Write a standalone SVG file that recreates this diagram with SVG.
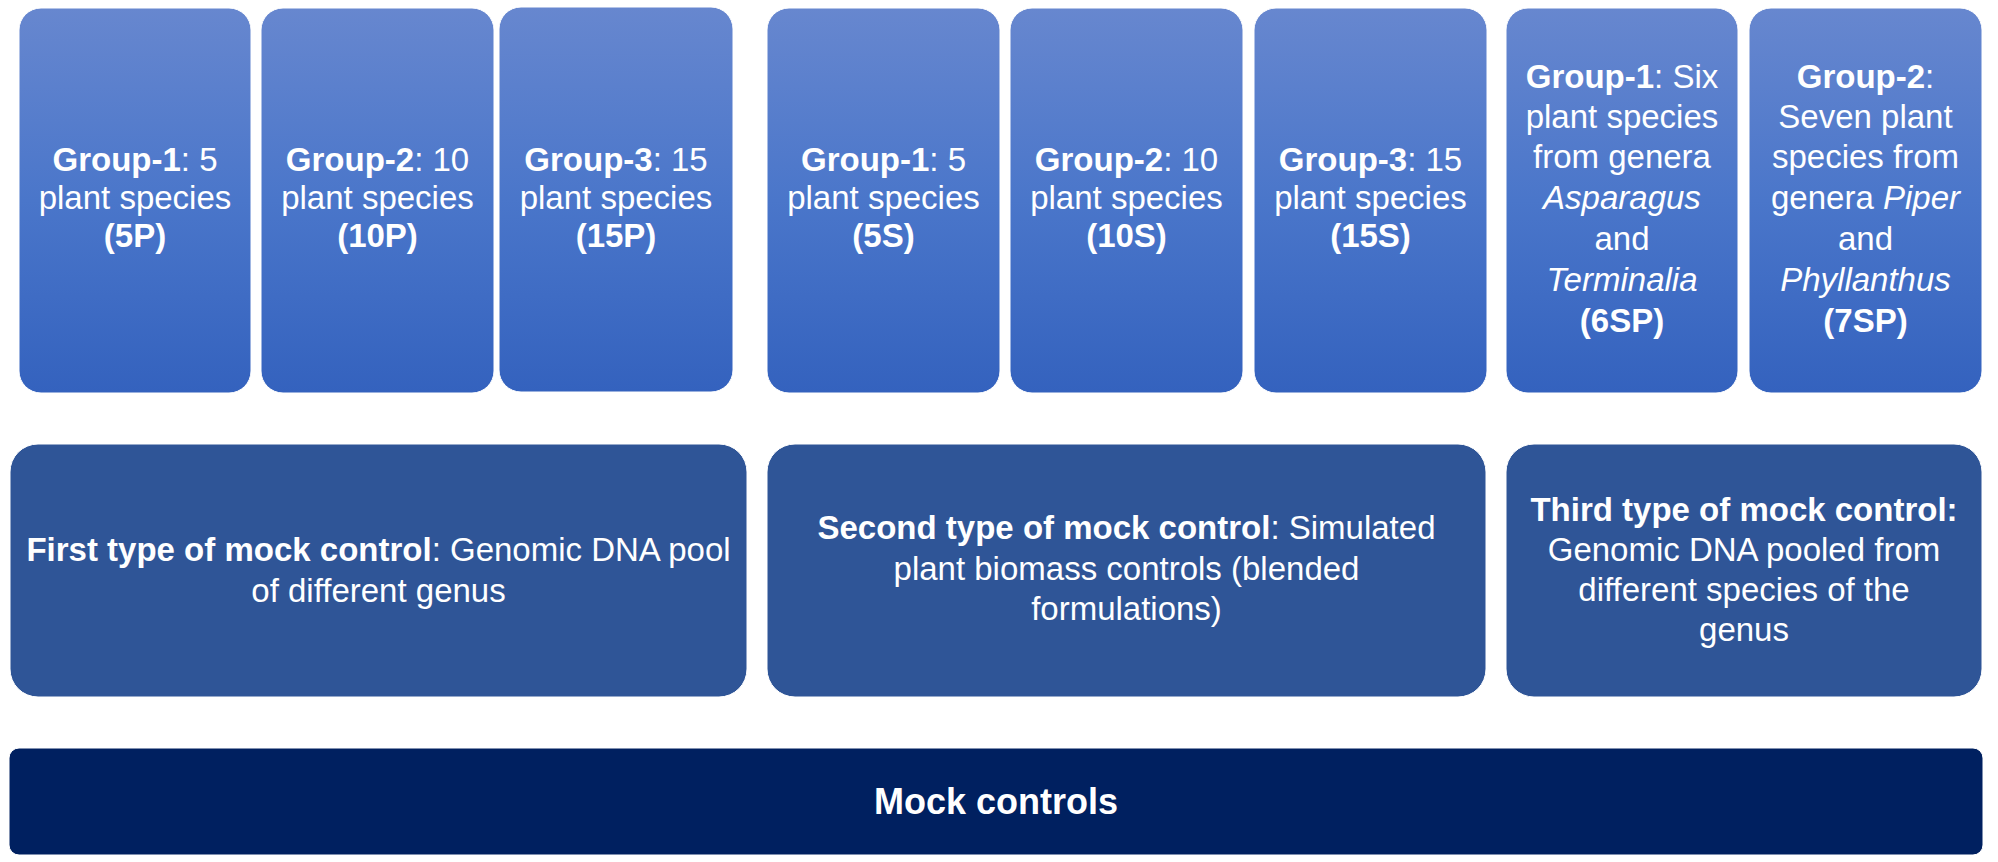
<svg xmlns="http://www.w3.org/2000/svg" width="1998" height="862" viewBox="0 0 1998 862">
<defs>
<linearGradient id="gTop" x1="0" y1="0" x2="0" y2="1">
<stop offset="0" stop-color="#6787CF"/>
<stop offset="0.5" stop-color="#4A76CA"/>
<stop offset="1" stop-color="#3462BE"/>
</linearGradient>
</defs>
<style>
text{font-family:"Liberation Sans",Arial,sans-serif;fill:#ffffff;text-anchor:middle}
.t{font-size:33px}
.t2{font-size:33px}
.m{font-size:33px}
.mc{font-size:36px}
.b{font-weight:bold}
.i{font-style:italic}
.top{fill:url(#gTop);stroke:#ffffff;stroke-width:1}
.mid{fill:#2F5597;stroke:#ffffff;stroke-width:1}
.bot{fill:#002060;stroke:#ffffff;stroke-width:1}
</style>
<rect width="1998" height="862" fill="#ffffff"/>
<g id="connectors"></g>

<g id="n5P">
<rect class="top" x="19" y="8" width="232" height="385" rx="22"/>
<text class="t" x="135" y="171"><tspan class="b">Group-1</tspan>: 5</text>
<text class="t" x="135" y="209">plant species</text>
<text class="t b" x="135" y="247">(5P)</text>
</g>
<g id="n10P">
<rect class="top" x="261" y="8" width="233" height="385" rx="22"/>
<text class="t" x="377.5" y="171"><tspan class="b">Group-2</tspan>: 10</text>
<text class="t" x="377.5" y="209">plant species</text>
<text class="t b" x="377.5" y="247">(10P)</text>
</g>
<g id="n15P">
<rect class="top" x="499" y="7" width="234" height="385" rx="22"/>
<text class="t" x="616" y="171"><tspan class="b">Group-3</tspan>: 15</text>
<text class="t" x="616" y="209">plant species</text>
<text class="t b" x="616" y="247">(15P)</text>
</g>

<g id="n5S">
<rect class="top" x="767" y="8" width="233" height="385" rx="22"/>
<text class="t" x="883.5" y="171"><tspan class="b">Group-1</tspan>: 5</text>
<text class="t" x="883.5" y="209">plant species</text>
<text class="t b" x="883.5" y="247">(5S)</text>
</g>
<g id="n10S">
<rect class="top" x="1010" y="8" width="233" height="385" rx="22"/>
<text class="t" x="1126.5" y="171"><tspan class="b">Group-2</tspan>: 10</text>
<text class="t" x="1126.5" y="209">plant species</text>
<text class="t b" x="1126.5" y="247">(10S)</text>
</g>
<g id="n15S">
<rect class="top" x="1254" y="8" width="233" height="385" rx="22"/>
<text class="t" x="1370.5" y="171"><tspan class="b">Group-3</tspan>: 15</text>
<text class="t" x="1370.5" y="209">plant species</text>
<text class="t b" x="1370.5" y="247">(15S)</text>
</g>

<g id="n6SP">
<rect class="top" x="1506" y="8" width="232" height="385" rx="22"/>
<text class="t2" x="1622" y="88"><tspan class="b">Group-1</tspan>: Six</text>
<text class="t2" x="1622" y="128">plant species</text>
<text class="t2" x="1622" y="168">from genera</text>
<text class="t2 i" x="1622" y="209">Asparagus</text>
<text class="t2" x="1622" y="250">and</text>
<text class="t2 i" x="1622" y="291">Terminalia</text>
<text class="t2 b" x="1622" y="332">(6SP)</text>
</g>
<g id="n7SP">
<rect class="top" x="1749" y="8" width="233" height="385" rx="22"/>
<text class="t2" x="1865.5" y="88"><tspan class="b">Group-2</tspan>:</text>
<text class="t2" x="1865.5" y="128">Seven plant</text>
<text class="t2" x="1865.5" y="168">species from</text>
<text class="t2" x="1865.5" y="209">genera <tspan class="i">Piper</tspan></text>
<text class="t2" x="1865.5" y="250">and</text>
<text class="t2 i" x="1865.5" y="291">Phyllanthus</text>
<text class="t2 b" x="1865.5" y="332">(7SP)</text>
</g>

<g id="nFirst">
<rect class="mid" x="10" y="444" width="737" height="253" rx="28"/>
<text class="m" x="378.5" y="561"><tspan class="b">First type of mock control</tspan>: Genomic DNA pool</text>
<text class="m" x="378.5" y="602">of different genus</text>
</g>
<g id="nSecond">
<rect class="mid" x="767" y="444" width="719" height="253" rx="28"/>
<text class="m" x="1126.5" y="539"><tspan class="b">Second type of mock control</tspan>: Simulated</text>
<text class="m" x="1126.5" y="580">plant biomass controls (blended</text>
<text class="m" x="1126.5" y="620">formulations)</text>
</g>
<g id="nThird">
<rect class="mid" x="1506" y="444" width="476" height="253" rx="28"/>
<text class="m b" x="1744" y="521">Third type of mock control:</text>
<text class="m" x="1744" y="561">Genomic DNA pooled from</text>
<text class="m" x="1744" y="601">different species of the</text>
<text class="m" x="1744" y="641">genus</text>
</g>

<g id="nMock">
<rect class="bot" x="9" y="748" width="1974" height="107" rx="10"/>
<text class="mc b" x="996" y="814">Mock controls</text>
</g>
</svg>
